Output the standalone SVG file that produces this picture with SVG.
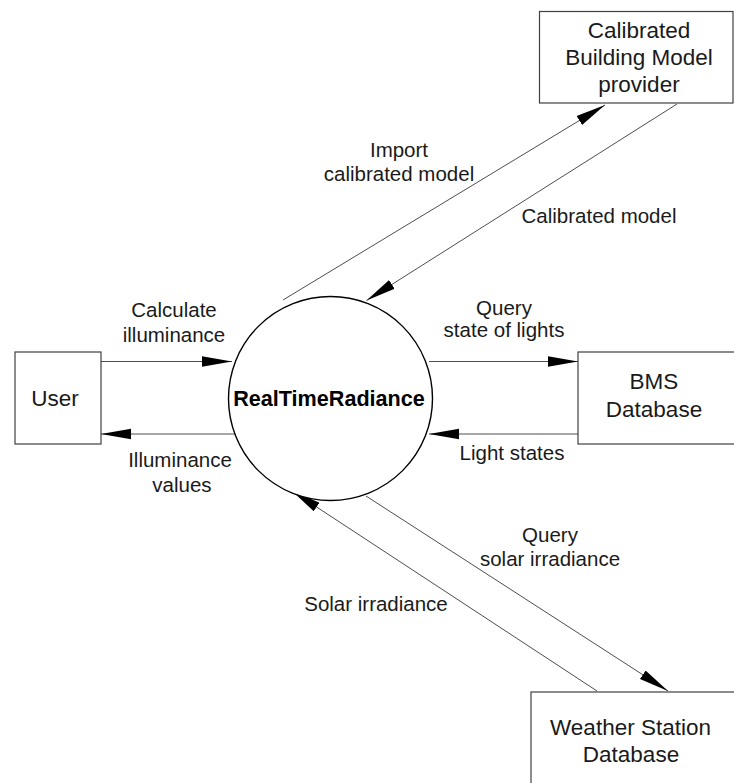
<svg xmlns="http://www.w3.org/2000/svg" width="734" height="783" viewBox="0 0 734 783">
<defs>
<style>
.box{fill:#fff;stroke:#404040;stroke-width:1.2}
.proc{fill:#fff;stroke:#000;stroke-width:1.4}
.conn{fill:none;stroke:#3a3a3a;stroke-width:0.9}
.bt{font-family:"Liberation Sans",Arial,sans-serif;font-size:22.5px;fill:#1a1a1a;text-anchor:middle}
.lt{font-family:"Liberation Sans",Arial,sans-serif;font-size:20.5px;fill:#1a1a1a;text-anchor:middle}
.pt{font-family:"Liberation Sans",Arial,sans-serif;font-size:21.6px;font-weight:bold;fill:#000;text-anchor:middle}
</style>
<marker id="ah" markerUnits="userSpaceOnUse" markerWidth="30" markerHeight="12" viewBox="0 0 29 10" refX="29" refY="5" orient="auto">
<path d="M0,0 L29,5 L0,10 z" fill="#000"/>
</marker>
</defs>
<rect width="734" height="783" fill="#fff"/>

<g id="connectors">
<line class="conn" x1="283" y1="300" x2="605" y2="105" marker-end="url(#ah)"/>
<line class="conn" x1="677" y1="104" x2="366.5" y2="300.5" marker-end="url(#ah)"/>
<line class="conn" x1="101" y1="361.5" x2="232" y2="361.5" marker-end="url(#ah)"/>
<line class="conn" x1="235" y1="434" x2="101" y2="434" marker-end="url(#ah)"/>
<line class="conn" x1="429" y1="361.5" x2="578" y2="361.5" marker-end="url(#ah)"/>
<line class="conn" x1="578" y1="434" x2="429" y2="434" marker-end="url(#ah)"/>
<line class="conn" x1="366" y1="496" x2="668" y2="691" marker-end="url(#ah)"/>
<line class="conn" x1="597" y1="691" x2="291.5" y2="490.5" marker-end="url(#ah)"/>
<text class="lt" x="399" y="157">Import</text>
<text class="lt" x="399" y="181">calibrated model</text>
<text class="lt" x="599" y="223">Calibrated model</text>
<text class="lt" x="174" y="317">Calculate</text>
<text class="lt" x="174" y="342">illuminance</text>
<text class="lt" x="180" y="467">Illuminance</text>
<text class="lt" x="182" y="492">values</text>
<text class="lt" x="504" y="315">Query</text>
<text class="lt" x="504" y="337">state of lights</text>
<text class="lt" x="512" y="460">Light states</text>
<text class="lt" x="550" y="542">Query</text>
<text class="lt" x="550" y="566">solar irradiance</text>
<text class="lt" x="376" y="611">Solar irradiance</text>
</g>

<g id="provider">
<rect class="box" x="539.5" y="11.5" width="193.5" height="91.5"/>
<text class="bt" x="639" y="38">Calibrated</text>
<text class="bt" x="639" y="65">Building Model</text>
<text class="bt" x="639" y="92">provider</text>
</g>

<g id="user">
<rect class="box" x="15" y="352" width="86" height="92"/>
<text class="bt" x="55" y="406">User</text>
</g>

<g id="process">
<circle class="proc" cx="330.5" cy="398.5" r="102"/>
<text class="pt" x="329" y="406">RealTimeRadiance</text>
</g>

<g id="bms">
<rect class="box" x="578" y="352" width="158" height="92"/>
<text class="bt" x="654" y="389">BMS</text>
<text class="bt" x="654" y="417">Database</text>
</g>

<g id="weather">
<rect class="box" x="531" y="692" width="206" height="100"/>
<text class="bt" x="630.5" y="735">Weather Station</text>
<text class="bt" x="631" y="762">Database</text>
</g>
</svg>
